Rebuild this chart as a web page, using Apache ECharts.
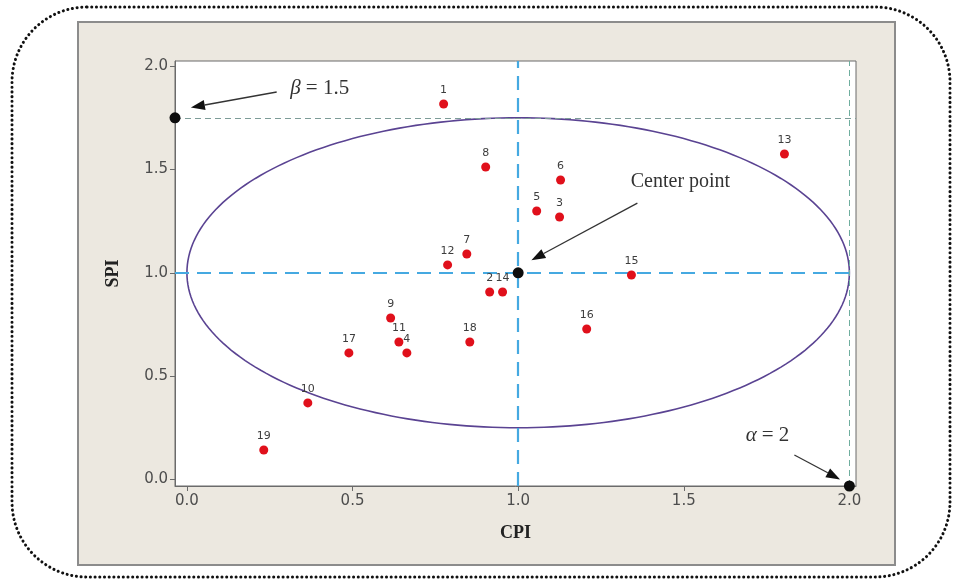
<!DOCTYPE html>
<html>
<head>
<meta charset="utf-8">
<script src="https://cdn.jsdelivr.net/npm/echarts@6/dist/echarts.min.js"></script>
<style>
  html, body { margin: 0; padding: 0; background: #ffffff; }
  #chart { width: 955px; height: 581px; }
</style>
</head>
<body>
<div id="chart"></div>
<script>
// Project numbers and their performance indices
const PROJECT_IDS = ['1','2','3','4','5','6','7','8','9','10','11','12','13','14','15','16','17','18','19'];
const CPI = [0.775, 0.914, 1.125, 0.664, 1.056, 1.128, 0.845, 0.902, 0.615, 0.365, 0.640, 0.787, 1.804, 0.953, 1.342, 1.207, 0.489, 0.854, 0.232];
const SPI = [1.817, 0.907, 1.270, 0.612, 1.299, 1.449, 1.091, 1.512, 0.781, 0.370, 0.665, 1.038, 1.575, 0.907, 0.989, 0.728, 0.612, 0.665, 0.142];

// Tolerance ellipse: centre and full widths along each axis
const CENTER = [1.0, 1.0];
const ALPHA = 2;     // width along CPI
const BETA = 1.5;    // height along SPI

// Axis extents and tick values
const X_RANGE = [-0.036, 2.02];
const Y_RANGE = [-0.032, 2.025];
const X_TICKS = [0, 0.5, 1.0, 1.5, 2.0];
const Y_TICKS = [0, 0.5, 1.0, 1.5, 2.0];

const topSPI = CENTER[1] + BETA / 2;
const rightCPI = CENTER[0] + ALPHA / 2;

const chart = echarts.init(document.getElementById('chart'), null, { renderer: 'canvas' });

const tickFont = { fontFamily: 'DejaVu Sans', fontSize: 15, color: '#4d4d4d' };
const nameFont = { fontFamily: 'Liberation Serif', fontSize: 18, fontWeight: 'bold', color: '#222' };

const option = {
  animation: false,
  backgroundColor: '#ffffff',
  grid: {
    left: 175, right: 99, top: 61, bottom: 95,
    show: true, backgroundColor: '#ffffff', borderColor: '#6b6b6b', borderWidth: 1
  },
  xAxis: {
    type: 'value', min: X_RANGE[0], max: X_RANGE[1],
    name: 'CPI', nameLocation: 'middle', nameGap: 38, nameTextStyle: nameFont,
    axisLine: { show: true, onZero: false, lineStyle: { color: '#6b6b6b' } },
    axisTick: { show: true, length: 5, customValues: X_TICKS, lineStyle: { color: '#6b6b6b' } },
    axisLabel: Object.assign({ customValues: X_TICKS, margin: 8, formatter: v => v.toFixed(1) }, tickFont),
    splitLine: { show: false }
  },
  yAxis: {
    type: 'value', min: Y_RANGE[0], max: Y_RANGE[1],
    name: 'SPI', nameLocation: 'middle', nameGap: 53, nameTextStyle: nameFont,
    axisLine: { show: true, onZero: false, lineStyle: { color: '#6b6b6b' } },
    axisTick: { show: true, length: 5, customValues: Y_TICKS, lineStyle: { color: '#6b6b6b' } },
    axisLabel: Object.assign({ customValues: Y_TICKS, margin: 7, formatter: v => v.toFixed(1) }, tickFont),
    splitLine: { show: false }
  },
  series: [
    {
      // reference lines through the centre and at the ellipse limits
      type: 'line', data: [], silent: true,
      markLine: {
        silent: true, symbol: ['none', 'none'], label: { show: false },
        data: [
          { xAxis: CENTER[0], lineStyle: { color: '#45a9e1', width: 2.2, type: [14, 8] } },
          { yAxis: CENTER[1], lineStyle: { color: '#45a9e1', width: 2.2, type: [14, 8] } },
          { yAxis: topSPI, lineStyle: { color: '#7d9c98', width: 1, type: [6, 4] } },
          { xAxis: rightCPI, lineStyle: { color: '#6fae9f', width: 1, type: [6, 4] } }
        ]
      }
    },
    {
      // tolerance ellipse
      type: 'custom', silent: true, z: 3,
      data: [[CENTER[0], CENTER[1]]],
      renderItem: function (params, api) {
        const cx = api.value(0), cy = api.value(1);
        const a = ALPHA / 2, b = BETA / 2;
        const pts = [];
        for (let i = 0; i <= 240; i++) {
          const t = (i / 240) * Math.PI * 2;
          pts.push(api.coord([cx + a * Math.cos(t), cy + b * Math.sin(t)]));
        }
        return {
          type: 'polyline',
          shape: { points: pts },
          style: { stroke: '#5a4392', lineWidth: 1.6, fill: null }
        };
      }
    },
    {
      type: 'scatter', name: 'projects', z: 5,
      symbolSize: 9,
      itemStyle: { color: '#e0101b', opacity: 1 },
      label: {
        show: true, position: 'top', distance: 4,
        fontFamily: 'DejaVu Sans', fontSize: 11, color: '#3d3d3d',
        formatter: p => p.name
      },
      data: PROJECT_IDS.map((id, i) => ({ name: id, value: [CPI[i], SPI[i]] }))
    },
    {
      type: 'scatter', name: 'limits', z: 6, clip: false,
      symbolSize: 11,
      itemStyle: { color: '#0d0d0d', opacity: 1 },
      data: [
        [CENTER[0], CENTER[1]],
        [X_RANGE[0], topSPI],
        [rightCPI, Y_RANGE[0]]
      ]
    }
  ]
};

chart.setOption(option);

// annotation arrows and captions, placed in data coordinates
function px(pt) { return chart.convertToPixel({ gridIndex: 0 }, pt); }

function arrow(from, to) {
  const p0 = px(from), p1 = px(to);
  const dx = p1[0] - p0[0], dy = p1[1] - p0[1];
  const len = Math.hypot(dx, dy);
  const ux = dx / len, uy = dy / len;
  const headLen = 14, half = 5;
  const bx = p1[0] - ux * headLen, by = p1[1] - uy * headLen;
  return [
    { type: 'line', z: 20, shape: { x1: p0[0], y1: p0[1], x2: bx, y2: by },
      style: { stroke: '#333', lineWidth: 1.3 } },
    { type: 'polygon', z: 20,
      shape: { points: [[p1[0], p1[1]], [bx - uy * half, by + ux * half], [bx + uy * half, by - ux * half]] },
      style: { fill: '#111' } }
  ];
}

function caption(at, rich, text) {
  const p = px(at);
  return {
    type: 'text', z: 20, x: p[0], y: p[1],
    style: { text: text, rich: rich, align: 'center', verticalAlign: 'middle',
      fontFamily: 'Liberation Serif', fontSize: 20, fill: '#333' }
  };
}

const mathRich = {
  i: { fontFamily: 'Liberation Serif', fontStyle: 'italic', fontSize: 21, fill: '#333' },
  n: { fontFamily: 'Liberation Serif', fontSize: 21, fill: '#333' }
};

const graphics = [
  // outer panel behind the plot
  { type: 'rect', z: -10, silent: true,
    shape: { x: 78, y: 22, width: 817, height: 543 },
    style: { fill: '#ece8e0', stroke: '#8c8c8c', lineWidth: 2 } },
  // dotted rounded frame
  { type: 'rect', z: -11, silent: true,
    shape: { x: 12, y: 7, width: 938, height: 570, r: 75 },
    style: { fill: null, stroke: '#111', lineWidth: 3, lineDash: [0.1, 4.6], lineCap: 'round' } }
]
  .concat(arrow([0.271, 1.875], [0.012, 1.800]))
  .concat(arrow([1.360, 1.337], [1.040, 1.061]))
  .concat(arrow([1.834, 0.118], [1.972, 0.0]))
  .concat([
    caption([0.401, 1.894], mathRich, '{i|β} {n|= 1.5}'),
    caption([1.490, 1.439], null, 'Center point'),
    caption([1.753, 0.214], mathRich, '{i|α} {n|= 2}')
  ]);

chart.setOption({ graphic: graphics });
</script>
</body>
</html>
